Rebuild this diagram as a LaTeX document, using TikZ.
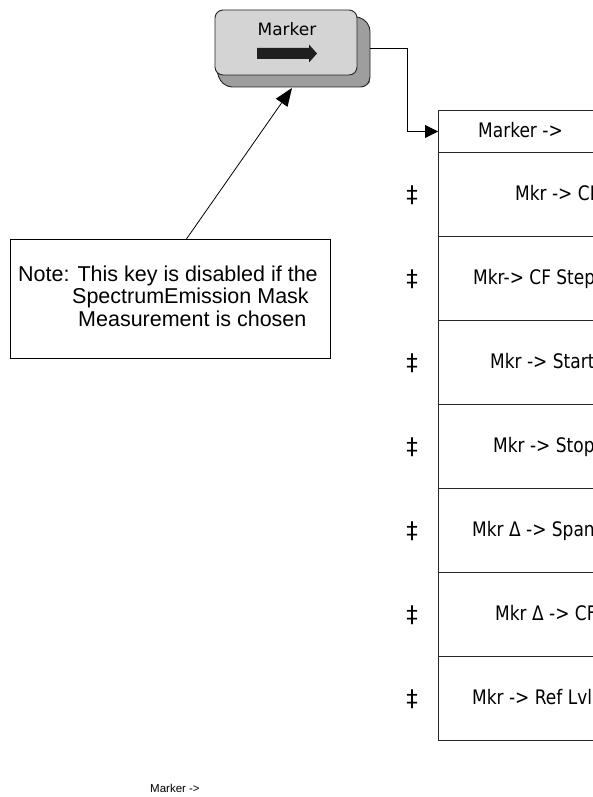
\documentclass[tikz,border=0pt]{standalone}
\usepackage{fontspec}
\setmainfont{Liberation Sans}
\newfontfamily\menufont[FakeStretch=0.85]{DejaVu Sans}
\newfontfamily\keyfont{DejaVu Sans}
\usetikzlibrary{positioning,arrows.meta,calc}
\tikzset{
  keybox/.style={draw=black!85,line width=0.9pt,fill=black!17,rounded corners=8pt,
    minimum width=142pt,minimum height=65pt,inner sep=0pt},
  keyshd/.style={draw=black!85,line width=0.9pt,fill=black!38},
  rowbox/.style={draw=black!85,line width=1pt,minimum width=212pt,minimum height=84pt,
    anchor=north west,inner sep=0pt},
  notebox/.style={draw,line width=0.9pt,minimum width=320pt,minimum height=119pt,
    anchor=north west,inner sep=0pt},
  conn/.style={line width=0.8pt,-{Triangle[length=13pt,width=13pt]}},
  ptr/.style={line width=0.8pt,-{Triangle[length=18pt,width=14pt]}},  % note -> key
  mtxt/.style={font=\menufont\fontsize{20}{24}\selectfont,anchor=base west,inner sep=0pt},
  dag/.style={font=\keyfont\fontsize{23}{26}\selectfont,inner sep=0pt},
  ntxt/.style={font=\fontsize{21.5}{22.5}\selectfont,anchor=base west,inner sep=0pt},
}
\begin{document}
\begin{tikzpicture}[x=1pt,y=-1pt]
  \useasboundingbox (0,0) rectangle (592,797);
  % hard key
  \draw[keyshd,rounded corners=4pt] (350,15) -- (364,19) -- (370,27) -- (370,81) -- (365,87)
    -- (228,87) -- (220,81) -- (216,68) -- cycle;
  \node[keybox] (key) at (286,42.5) {};
  \node[font=\keyfont\fontsize{17}{20}\selectfont,anchor=base,inner sep=0pt] (klbl) at (287,36) {Marker};
  \fill[black!88] (257,48) -- (309,48) -- (309,44.5) -- (317,53.5) -- (309,62.5) -- (309,59)
    -- (257,59) -- cycle;
  \coordinate (kout) at (370,48);
  \coordinate (kin) at (292,88);

  % softkey menu
  \node[rowbox,minimum height=42pt] (hdr) at (438,110) {};
  \node[mtxt] (hdrlbl) at (478,137) {Marker ->};
  \foreach \t/\x [count=\i] in {Mkr -> CF/515,Mkr-> CF Step/473,Mkr -> Start/490,
      Mkr -> Stop/493,Mkr Δ -> Span/472,Mkr Δ -> CF/495,Mkr -> Ref Lvl/472}{
    \node[rowbox] (row\i) at (438,68+84*\i) {};
    \node[mtxt] (lbl\i) at (\x,116.5+84*\i) {\t};
    \node[dag] (dg\i) at (412,111+84*\i) {‡};
  }
  \draw[conn] (kout) -- (407,48) |- (hdr.west);

  % note
  \node[notebox] (note) at (10,239) {};
  \node[ntxt] (n1) at (18,281) {Note: This key is disabled if the};
  \node[ntxt] (n2) at (72,303.5) {SpectrumEmission Mask};
  \node[ntxt] (n3) at (78,326) {Measurement is chosen};
  \draw[ptr] ([xshift=16pt]note.north) -- (kin);

  \node[font=\fontsize{11.5}{14}\selectfont,anchor=base west,inner sep=0pt] (foot) at (150,792) {Marker ->};
\end{tikzpicture}
\end{document}
